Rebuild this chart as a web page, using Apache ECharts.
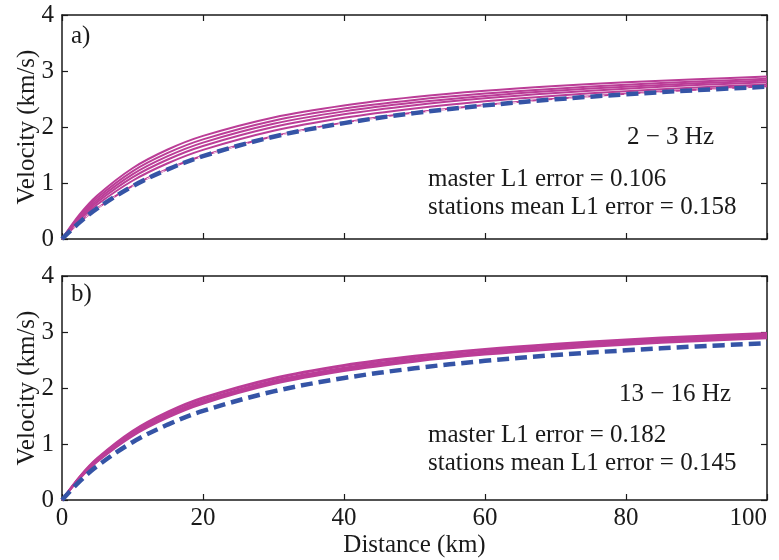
<!DOCTYPE html>
<html>
<head>
<meta charset="utf-8">
<script src="https://cdn.jsdelivr.net/npm/echarts@6/dist/echarts.min.js"></script>
<style>
  html, body { margin: 0; padding: 0; background: #fff; }
  #chart { width: 779px; height: 560px; }
</style>
</head>
<body>
<div id="chart"></div>
<script>
// distance samples (km)
const distance = [0, 2.5, 5, 10, 15, 20, 30, 40, 50, 60, 70, 80, 90, 100];

// panel a) 2 - 3 Hz, station curves (km/s)
const stationsA = [
  [0, 0.439, 0.777, 1.264, 1.598, 1.841, 2.171, 2.385, 2.535, 2.646, 2.731, 2.799, 2.854, 2.900],
  [0, 0.413, 0.736, 1.209, 1.537, 1.779, 2.112, 2.330, 2.483, 2.597, 2.685, 2.755, 2.813, 2.860],
  [0, 0.389, 0.697, 1.155, 1.479, 1.721, 2.057, 2.279, 2.437, 2.555, 2.647, 2.720, 2.780, 2.830],
  [0, 0.364, 0.658, 1.101, 1.420, 1.661, 2.000, 2.227, 2.390, 2.513, 2.609, 2.685, 2.748, 2.800],
  [0, 0.338, 0.615, 1.040, 1.352, 1.591, 1.932, 2.164, 2.332, 2.459, 2.559, 2.639, 2.705, 2.760],
  [0, 0.300, 0.550, 0.948, 1.250, 1.488, 1.836, 2.078, 2.257, 2.395, 2.504, 2.593, 2.667, 2.728]
];
const masterA = [0, 0.297, 0.546, 0.942, 1.243, 1.480, 1.827, 2.069, 2.248, 2.386, 2.495, 2.584, 2.658, 2.719];

// panel b) 13 - 16 Hz
const stationsB = [
  [0, 0.418, 0.748, 1.235, 1.577, 1.831, 2.181, 2.412, 2.576, 2.698, 2.792, 2.868, 2.929, 2.980],
  [0, 0.412, 0.737, 1.219, 1.558, 1.811, 2.160, 2.391, 2.555, 2.677, 2.772, 2.847, 2.909, 2.960],
  [0, 0.400, 0.718, 1.192, 1.528, 1.780, 2.130, 2.362, 2.528, 2.652, 2.748, 2.825, 2.887, 2.940],
  [0, 0.391, 0.704, 1.174, 1.509, 1.760, 2.111, 2.345, 2.512, 2.638, 2.735, 2.813, 2.877, 2.930],
  [0, 0.385, 0.694, 1.159, 1.491, 1.741, 2.091, 2.325, 2.492, 2.617, 2.715, 2.793, 2.857, 2.910],
  [0, 0.379, 0.683, 1.142, 1.472, 1.720, 2.069, 2.303, 2.470, 2.596, 2.694, 2.772, 2.837, 2.890]
];
const masterB = [0, 0.333, 0.607, 1.032, 1.347, 1.590, 1.939, 2.178, 2.352, 2.485, 2.589, 2.673, 2.742, 2.800];

const yTicks = [0, 1, 2, 3, 4];
const xTicks = [0, 20, 40, 60, 80, 100];

const serif = '"Liberation Serif", "DejaVu Serif", serif';
const ink = '#1a1a1a';
const magenta = '#bb3d97';
const blue = '#3554a6';

const pairs = (ys) => distance.map((d, i) => [d, ys[i]]);

const tick = { inside: true, length: 6, lineStyle: { color: ink, width: 1.2 } };
const frame = { show: true, onZero: false, lineStyle: { color: ink, width: 1.5 } };

function xAxisFor(gi, showLabels) {
  return [
    {
      type: 'value', gridIndex: gi, min: xTicks[0], max: xTicks[xTicks.length - 1], interval: 20,
      axisLine: frame, axisTick: tick,
      axisLabel: { show: showLabels, color: ink, fontFamily: serif, fontSize: 25, margin: 6, alignMaxLabel: 'right' },
      splitLine: { show: false },
      name: showLabels ? 'Distance (km)' : '',
      nameLocation: 'middle', nameGap: 33, nameMoveOverlap: false,
      nameTextStyle: { color: ink, fontFamily: serif, fontSize: 25 }
    },
    {
      type: 'value', gridIndex: gi, position: 'top', min: 0, max: 100, interval: 20,
      axisLine: frame, axisTick: tick,
      axisLabel: { show: false }, splitLine: { show: false }
    }
  ];
}

function yAxisFor(gi) {
  return [
    {
      type: 'value', gridIndex: gi, min: yTicks[0], max: yTicks[yTicks.length - 1], interval: 1,
      axisLine: frame, axisTick: Object.assign({ show: true }, tick),
      axisLabel: { color: ink, fontFamily: serif, fontSize: 25, margin: 8 },
      splitLine: { show: false },
      name: 'Velocity (km/s)', nameLocation: 'middle', nameGap: 22, nameMoveOverlap: false,
      nameTextStyle: { color: ink, fontFamily: serif, fontSize: 25 }
    },
    {
      type: 'value', gridIndex: gi, position: 'right', min: 0, max: 4, interval: 1,
      axisLine: frame, axisTick: Object.assign({ show: true }, tick),
      axisLabel: { show: false }, splitLine: { show: false }
    }
  ];
}

function panelSeries(stations, master, xi, yi, underlay) {
  const s = stations.map((ys) => ({
    type: 'line', xAxisIndex: xi, yAxisIndex: yi, data: pairs(ys),
    smooth: 0.35, showSymbol: false, silent: true,
    lineStyle: { color: magenta, width: 2 }
  }));
  if (underlay) {
    s.push({
      type: 'line', xAxisIndex: xi, yAxisIndex: yi, data: pairs(master),
      smooth: 0.35, showSymbol: false, silent: true,
      lineStyle: { color: '#f4d6ea', width: 1, type: [4, 4] }
    });
  }
  s.push({
    type: 'line', xAxisIndex: xi, yAxisIndex: yi, data: pairs(master),
    smooth: 0.35, showSymbol: false, silent: true,
    lineStyle: { color: blue, width: 4.5, type: [12, 6] }
  });
  return s;
}

function label(text, x, y) {
  return {
    type: 'text', left: x, top: y,
    style: { text: text, fill: ink, font: '25px ' + serif }
  };
}

const chart = echarts.init(document.getElementById('chart'));
chart.setOption({
  animation: false,
  backgroundColor: '#fff',
  grid: [
    { left: 62, right: 12, top: 15, height: 224, outerBoundsMode: 'none' },
    { left: 62, right: 12, top: 276, height: 224, outerBoundsMode: 'none' }
  ],
  xAxis: [...xAxisFor(0, false), ...xAxisFor(1, true)],
  yAxis: [...yAxisFor(0), ...yAxisFor(1)],
  series: [
    ...panelSeries(stationsA, masterA, 0, 0, true),
    ...panelSeries(stationsB, masterB, 2, 2, false)
  ],
  graphic: [
    label('a)', 71, 24),
    label('2 \u2212 3 Hz', 627, 125),
    label('master L1 error = 0.106', 428, 167),
    label('stations mean L1 error = 0.158', 428, 195),
    label('b)', 71, 282),
    label('13 \u2212 16 Hz', 619, 382),
    label('master L1 error = 0.182', 428, 423),
    label('stations mean L1 error = 0.145', 428, 451)
  ]
});
</script>
</body>
</html>
